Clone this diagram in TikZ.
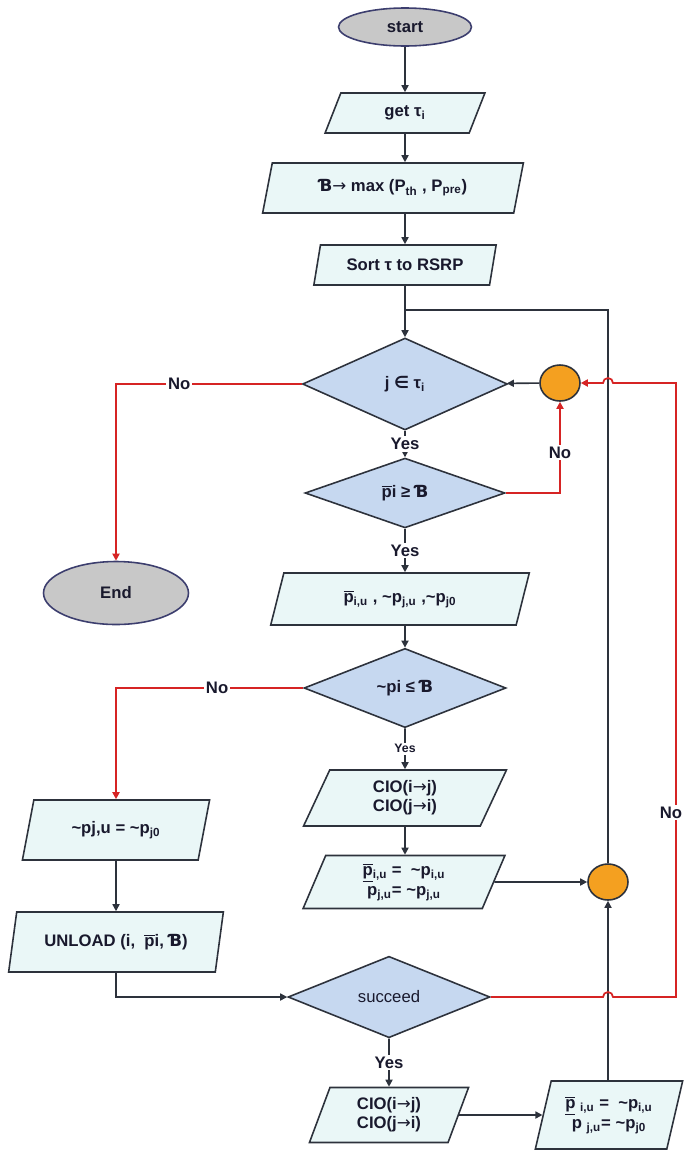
\documentclass[tikz,border=0pt]{standalone}
\usepackage{fontspec}
\setmainfont{Liberation Sans}
\newfontfamily\symfont{DejaVu Sans}
\usetikzlibrary{arrows.meta,shapes.geometric,calc}
\definecolor{parafill}{RGB}{234,247,247}
\definecolor{decfill}{RGB}{198,216,240}
\definecolor{termfill}{RGB}{200,200,200}
\definecolor{termdraw}{RGB}{60,62,110}
\definecolor{jointfill}{RGB}{244,160,32}
\definecolor{linecol}{RGB}{45,50,60}
\definecolor{nocol}{RGB}{214,36,36}
\definecolor{txtcol}{RGB}{25,25,45}
\newcommand\pbar{$\overline{\mbox{p}}$}
\newcommand\pbu{$\underline{\overline{\mbox{p}}}$}
\newcommand\Bhook{{\symfont Ɓ}}
\newcommand\arr{{\symfont\mdseries →}}
\newcommand\tl{\textasciitilde}
\tikzset{
  base/.style={draw=linecol,line width=0.9pt,text=txtcol,align=center,inner sep=1pt,
    font=\bfseries\fontsize{9.5}{11}\selectfont},
  io/.style={base,trapezium,trapezium left angle=73,trapezium right angle=107,
    trapezium stretches,fill=parafill},
  dec/.style={base,diamond,fill=decfill},
  term/.style={base,ellipse,fill=termfill,draw=termdraw},
  joint/.style={ellipse,draw=linecol,fill=jointfill,line width=0.9pt,
    minimum width=0.8cm,minimum height=0.72cm},
  link/.style={draw=linecol,line width=0.9pt},
  flow/.style={link,-{Triangle[length=4pt,width=4pt]}},
  noflow/.style={flow,draw=nocol,line width=1pt},
  lbl/.style={fill=white,inner sep=1pt,text=txtcol,font=\bfseries\fontsize{9.5}{11}\selectfont}
}
\begin{document}
\begin{tikzpicture}[x=0.02cm,y=-0.02cm]
 \useasboundingbox (0,0) rectangle (684,1150);
 \node[term,minimum width=2.66cm,minimum height=0.76cm] (start) at (405,27) {start};
 \node[io,minimum width=3.2cm,minimum height=0.8cm] (get) at (405,113) {get τ\textsubscript{i}};
 \node[io,minimum width=5.22cm,minimum height=1cm] (bmax) at (393,188)
   {\Bhook\arr\ max (P\textsubscript{th} , P\textsubscript{pre})};
 \node[io,minimum width=3.66cm,minimum height=0.8cm] (sort) at (405,265) {Sort τ to RSRP};
 \coordinate (top) at (405,310);
 \node[dec,minimum width=4.1cm,minimum height=1.84cm] (inset) at (405,384)
   {j {\symfont ∈} τ\textsubscript{i}};
 \node[joint] (jA) at (560,383) {};
 \node[dec,minimum width=4cm,minimum height=1.38cm] (ptest) at (405,493) {\pbar i ≥ \Bhook};
 \node[io,minimum width=5.2cm,minimum height=1.04cm] (pset) at (400,599)
   {\pbar\textsubscript{i,u} , \tl p\textsubscript{j,u} ,\tl p\textsubscript{j0}};
 \node[dec,minimum width=4.04cm,minimum height=1.3cm] (qtest) at (405,688) {\tl pi ≤ \Bhook};
 \node[io,minimum width=4.08cm,minimum height=1.12cm] (cioA) at (405,798) {CIO(i\arr j)\\CIO(j\arr i)};
 \node[io,minimum width=4.06cm,minimum height=1.06cm] (updA) at (404,882)
   {\pbu\textsubscript{i,u} = \ \tl p\textsubscript{i,u}\\p\textsubscript{j,u}= \tl p\textsubscript{j,u}};
 \node[joint] (jB) at (608,882) {};
 \node[term,minimum width=2.9cm,minimum height=1.26cm] (end) at (116,593) {End};
 \node[io,minimum width=3.76cm,minimum height=1.2cm] (keep) at (116,830)
   {\tl pj,u = \tl p\textsubscript{j0}};
 \node[io,minimum width=4.32cm,minimum height=1.2cm] (unload) at (116,942)
   {UNLOAD (i, \ \pbar i, \Bhook)};
 \node[dec,minimum width=4.04cm,minimum height=1.34cm,font=\fontsize{9.5}{11}\selectfont] (succ) at (389,997) {succeed};
 \node[io,minimum width=3.2cm,minimum height=1.1cm] (cioB) at (389,1115) {CIO(i\arr j)\\CIO(j\arr i)};
 \node[io,minimum width=2.96cm,minimum height=1.36cm] (updB) at (609,1115)
   {\pbu\ \textsubscript{i,u} = \ \tl p\textsubscript{i,u}\\p\ \textsubscript{j,u}= \tl p\textsubscript{j0}};
 \coordinate (rx) at (676,0);

 \draw[flow] (start) -- (get);
 \draw[flow] (get) -- (get |- bmax.north);
 \draw[flow] (sort |- bmax.south) -- (sort);
 \draw[flow] (sort) -- (inset);
 \draw[link] (jB) |- (top);
 \draw[flow] (jA) -- (inset);
 \draw[noflow] (inset) -| node[lbl,pos=0.33] {No} (end);
 \draw[flow] (inset) -- node[lbl] {Yes} (ptest);
 \draw[noflow] (ptest) -| node[lbl,pos=0.72] {No} (jA);
 \draw[flow] (ptest) -- node[lbl] {Yes} (ptest |- pset.north);
 \draw[flow] (pset.south -| qtest) -- (qtest);
 \draw[noflow] (qtest) -| node[lbl,pos=0.23] {No} (keep);
 \draw[flow] (qtest) -- node[lbl,font=\bfseries\fontsize{7}{8}\selectfont] {Yes} (cioA);
 \draw[flow] (cioA) -- (cioA |- updA.north);
 \draw[flow] (updA) -- (jB);
 \draw[flow] (keep) -- (unload);
 \draw[flow] (unload) |- (succ);
 \draw[flow] (succ) -- node[lbl] {Yes} (cioB);
 \draw[flow] (cioB) -- (updB);
 \draw[flow] (updB.north -| jB) -- (jB);
 \draw[noflow] (succ.east) -- ($(jB |- succ.east)+(-5,0)$) arc[start angle=180,end angle=0,radius=1mm]
   -- (rx |- succ.east) -- node[lbl,pos=0.3,xshift=-0.1cm] {No} (rx |- jA)
   -- ($(jB |- jA)+(5,0)$) arc[start angle=0,end angle=180,radius=1mm] -- (jA);
\end{tikzpicture}
\end{document}
